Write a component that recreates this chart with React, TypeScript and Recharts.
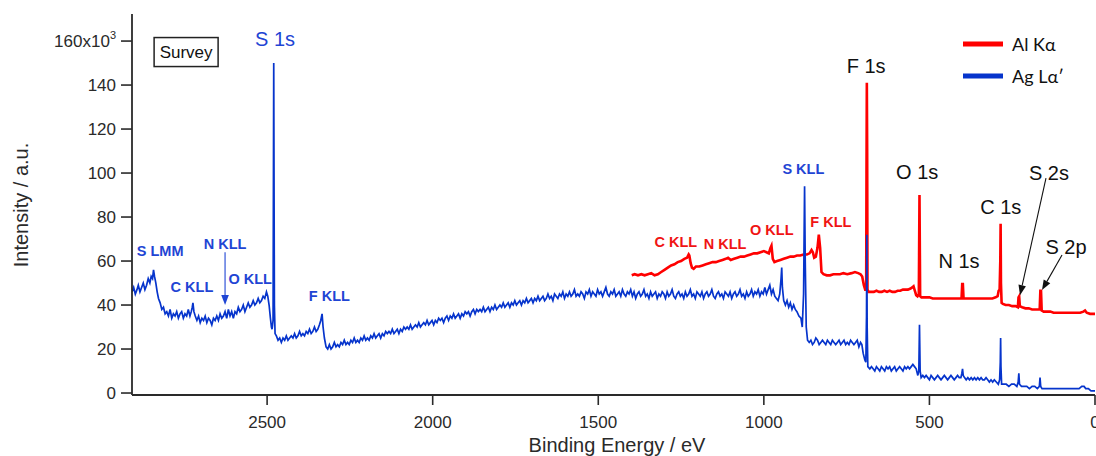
import React from 'react';
import { LineChart, Line, XAxis, YAxis, ReferenceDot, ReferenceLine, Legend } from 'recharts';

// ---------- data (binding energy eV, intensity x10^3) ----------
const agHighBE: [number, number][] = [
  [2908, 46], [2903, 48], [2898, 45], [2893, 47], [2889, 49], [2884, 46], [2879, 48], [2874, 50], [2869, 47],
  [2864, 49], [2859, 52], [2854, 50], [2850, 53], [2846, 52], [2843, 56], [2840, 53], [2836, 50], [2832, 46],
  [2828, 43], [2823, 41], [2818, 38], [2813, 39], [2808, 36], [2803, 37], [2798, 35], [2793, 38], [2788, 34],
  [2783, 36], [2778, 35], [2773, 37], [2768, 34], [2763, 36], [2758, 37], [2753, 34], [2748, 36], [2743, 35],
  [2738, 38], [2733, 35], [2729, 37], [2726, 39], [2724, 41], [2721, 37], [2717, 35], [2712, 33], [2707, 35],
  [2702, 32], [2697, 34], [2692, 33], [2687, 35], [2682, 32], [2677, 34], [2672, 33], [2667, 31], [2662, 34],
  [2657, 33], [2652, 35], [2647, 33], [2642, 36], [2637, 34], [2632, 35], [2627, 37], [2622, 34], [2617, 38],
  [2612, 35], [2607, 37], [2602, 34], [2597, 37], [2592, 36], [2587, 39], [2582, 37], [2577, 38], [2572, 40],
  [2567, 37], [2562, 39], [2557, 41], [2552, 39], [2547, 40], [2542, 42], [2537, 40], [2532, 41], [2527, 43],
  [2522, 41], [2517, 42], [2512, 44], [2507, 43], [2502, 46], [2498, 44], [2494, 40], [2490, 34], [2487, 30],
  [2485, 29], [2482, 33], [2480, 150], [2478, 40], [2476, 27], [2472, 26], [2467, 24], [2462, 25], [2457, 23],
  [2452, 25], [2447, 24], [2442, 26], [2437, 24], [2432, 25], [2427, 26], [2422, 25], [2417, 27], [2412, 25],
  [2407, 26], [2402, 28], [2397, 26], [2392, 27], [2387, 26], [2382, 28], [2377, 27], [2372, 29], [2367, 27],
  [2362, 28], [2357, 30], [2352, 28], [2347, 29], [2342, 31], [2338, 33], [2334, 36], [2331, 30], [2327, 25],
];
const agMidBE: [number, number][] = [
  [2322, 21], [2317, 20], [2312, 22], [2307, 20], [2302, 21], [2297, 23], [2292, 21], [2287, 22], [2282, 21],
  [2277, 23], [2272, 22], [2267, 24], [2262, 22], [2257, 23], [2252, 22], [2247, 24], [2242, 23], [2237, 25],
  [2232, 23], [2227, 24], [2222, 23], [2217, 25], [2212, 24], [2207, 26], [2202, 24], [2197, 25], [2192, 24],
  [2187, 26], [2182, 25], [2177, 27], [2172, 25], [2167, 26], [2162, 27], [2157, 25], [2152, 27], [2147, 26],
  [2142, 28], [2137, 27], [2132, 28], [2127, 27], [2122, 29], [2117, 27], [2112, 28], [2107, 29], [2102, 27],
  [2097, 29], [2092, 28], [2087, 30], [2082, 29], [2077, 30], [2072, 29], [2067, 31], [2062, 29], [2057, 30],
  [2052, 31], [2047, 30], [2042, 32], [2037, 30], [2032, 31], [2027, 32], [2022, 31], [2017, 33], [2012, 31],
  [2007, 32], [2002, 33], [1997, 31], [1992, 33], [1987, 32], [1982, 34], [1977, 33], [1972, 34], [1967, 32],
  [1962, 34], [1957, 35], [1952, 33], [1947, 35], [1942, 34], [1937, 36], [1932, 34], [1927, 35], [1922, 36],
  [1917, 34], [1912, 36], [1907, 35], [1902, 37], [1897, 36], [1892, 37], [1887, 35], [1882, 37], [1877, 38],
  [1872, 36], [1867, 38], [1862, 37], [1857, 38], [1852, 37], [1847, 39], [1842, 37], [1837, 38], [1832, 39],
  [1827, 37], [1822, 39], [1817, 38], [1812, 40], [1807, 38], [1802, 39], [1797, 40], [1792, 39], [1787, 41],
  [1782, 39], [1777, 40], [1772, 41], [1767, 39], [1762, 41], [1757, 40], [1752, 42], [1747, 40], [1742, 41],
  [1737, 42], [1732, 40], [1727, 42], [1722, 41], [1717, 43], [1712, 41], [1707, 42], [1702, 43], [1697, 41],
  [1692, 43], [1687, 42], [1682, 44], [1677, 42], [1672, 43], [1667, 44], [1662, 42], [1657, 43], [1652, 45],
  [1647, 43], [1642, 44], [1637, 42], [1632, 45], [1627, 44], [1622, 43], [1617, 45], [1612, 44], [1607, 46],
  [1602, 43], [1597, 45], [1592, 44], [1587, 46], [1582, 44], [1577, 45], [1572, 47], [1567, 44], [1562, 45],
  [1557, 44], [1552, 46], [1547, 45], [1542, 43], [1537, 46], [1532, 45], [1527, 47], [1522, 44], [1517, 46],
  [1512, 45], [1507, 44], [1502, 47], [1497, 45], [1492, 46], [1487, 44], [1482, 46], [1477, 48], [1472, 45],
  [1467, 44], [1462, 46], [1457, 45], [1452, 47], [1447, 44], [1442, 45], [1437, 46], [1432, 44], [1427, 47],
  [1422, 45], [1417, 44], [1412, 46], [1407, 45], [1402, 47], [1397, 44], [1392, 46], [1387, 43], [1382, 45],
  [1377, 46], [1372, 44], [1367, 45], [1362, 47], [1357, 44], [1352, 45], [1347, 43], [1342, 46], [1337, 44],
  [1332, 45], [1327, 46], [1322, 43], [1317, 45], [1312, 44], [1307, 46], [1302, 45], [1297, 43], [1292, 46],
  [1287, 44], [1282, 45], [1277, 47], [1272, 44], [1267, 43], [1262, 45], [1257, 46], [1252, 44], [1247, 45],
  [1242, 43], [1237, 46], [1232, 44], [1227, 45], [1222, 47], [1217, 44], [1212, 45], [1207, 43], [1202, 46],
  [1197, 45], [1192, 44], [1187, 46], [1182, 43], [1177, 45], [1172, 46], [1167, 44], [1162, 45], [1157, 47],
  [1152, 44], [1147, 43], [1142, 45], [1137, 46], [1132, 44], [1127, 45], [1122, 43], [1117, 46], [1112, 45],
  [1107, 44], [1102, 46], [1097, 43], [1092, 45], [1087, 46], [1082, 44], [1077, 45], [1072, 47], [1067, 44],
  [1062, 45], [1057, 43], [1052, 46], [1047, 44], [1042, 45], [1037, 47], [1032, 44], [1027, 46], [1022, 45],
  [1017, 47], [1012, 44], [1007, 46], [1002, 45], [997, 48], [992, 45], [987, 47], [982, 49], [977, 45],
  [972, 47], [967, 44], [962, 43], [957, 42], [952, 45], [948, 52], [946, 57], [944, 48], [940, 42],
  [935, 40], [930, 42], [925, 39], [920, 41], [915, 38], [910, 40], [905, 38], [900, 37], [894, 35],
  [888, 34], [884, 30], [880, 45], [877, 94], [875, 60], [872, 30],
];
const agLowBE: [number, number][] = [
  [868, 24], [863, 23], [858, 24], [853, 22], [848, 23], [843, 25], [838, 24], [833, 22], [828, 23],
  [823, 24], [818, 23], [813, 22], [808, 24], [803, 23], [798, 22], [793, 24], [788, 23], [783, 22],
  [778, 23], [773, 24], [768, 22], [763, 23], [758, 24], [753, 22], [748, 23], [743, 22], [738, 24],
  [733, 23], [728, 22], [723, 23], [718, 24], [713, 21], [708, 23], [704, 22], [700, 18], [695, 15],
  [692, 14], [690, 35], [689, 72], [688, 30], [686, 12], [680, 11], [675, 12], [670, 11], [665, 10],
  [660, 12], [655, 11], [650, 10], [645, 12], [640, 11], [635, 10], [630, 12], [625, 11], [620, 12],
  [615, 10], [610, 11], [605, 12], [600, 10], [595, 11], [590, 12], [585, 11], [580, 10], [575, 12],
  [570, 11], [565, 12], [560, 11], [555, 12], [550, 13], [545, 12], [540, 11], [535, 8], [532, 10],
  [530, 31], [528, 10], [525, 7], [520, 8], [515, 7], [510, 8], [505, 7], [500, 6], [495, 8],
  [490, 7], [485, 6], [480, 7], [475, 8], [470, 7], [465, 6], [460, 7], [455, 8], [450, 7],
  [445, 6], [440, 7], [435, 8], [430, 7], [425, 6], [420, 7], [415, 8], [410, 7], [405, 7],
  [402, 9], [400, 11], [398, 8], [394, 7], [389, 6], [384, 7], [379, 6], [374, 7], [369, 6],
  [364, 7], [359, 6], [354, 7], [349, 6], [344, 7], [339, 6], [334, 6], [329, 7], [324, 6],
  [319, 5], [314, 6], [309, 5], [304, 6], [298, 5], [292, 4], [288, 6], [286, 14], [285, 25],
  [284, 12], [282, 4], [276, 4], [268, 4], [260, 3], [252, 4], [244, 4], [236, 3], [232, 5],
  [230, 9], [228, 4], [222, 3], [214, 3], [206, 3], [198, 2], [190, 3], [182, 3], [174, 2],
  [168, 3], [166, 7], [164, 3], [160, 2], [152, 2], [144, 2], [136, 2], [128, 2], [120, 2],
  [112, 2], [104, 2], [96, 2], [88, 2], [80, 2], [72, 2], [64, 2], [56, 2], [48, 2],
  [40, 3], [33, 3], [28, 2], [20, 2], [12, 1], [5, 1], [0, 1],
];
const alKa: [number, number][] = [
  [1399, 53.5], [1390, 54], [1380, 53.5], [1370, 54], [1360, 53.5], [1350, 54], [1340, 54.5], [1330, 53.5],
  [1320, 54], [1310, 55], [1300, 56], [1290, 57], [1280, 58], [1270, 58.5], [1260, 59.5], [1250, 60],
  [1240, 61], [1232, 61.5], [1227, 63], [1225, 62.5], [1221, 59], [1217, 57], [1212, 56.5], [1205, 57.5],
  [1195, 57.5], [1185, 58], [1175, 58.5], [1165, 59], [1155, 59.5], [1145, 59.5], [1135, 60], [1125, 60.5],
  [1115, 61], [1108, 61.5], [1100, 60.5], [1090, 61], [1080, 61.5], [1070, 62], [1060, 62], [1050, 62.5],
  [1040, 63], [1030, 63.5], [1020, 63.5], [1010, 64], [1000, 64.5], [992, 64], [985, 63.5], [980, 66],
  [977, 67], [973, 61], [968, 59.5], [960, 60], [950, 60.5], [940, 61], [930, 61.5], [920, 62],
  [910, 62], [900, 62.5], [890, 62.5], [880, 63], [870, 63], [862, 63.5], [856, 65], [852, 64],
  [848, 61.5], [843, 62], [838, 66], [834, 72], [830, 66], [826, 55], [820, 54], [810, 53.5],
  [800, 53.5], [790, 54], [780, 54], [770, 54], [760, 54.5], [748, 54], [735, 54.5], [725, 55],
  [715, 54.5], [708, 54], [703, 53], [698, 49], [694, 47], [691, 47], [690, 100], [689, 141],
  [688, 110], [687, 47], [684, 46], [676, 46], [668, 46], [660, 46.5], [652, 46], [644, 46],
  [636, 46.5], [628, 46], [620, 46.5], [612, 46], [604, 46], [596, 46.5], [588, 46.5], [580, 47],
  [572, 47], [565, 47], [557, 47.5], [552, 48], [548, 48.5], [545, 47], [540, 44.5], [536, 44],
  [532, 45], [530, 90], [528, 44], [524, 43.5], [516, 43.5], [508, 43.5], [500, 43.5], [490, 43],
  [480, 43], [470, 43], [460, 43], [450, 43], [440, 43], [430, 43], [420, 43], [410, 43],
  [403, 43], [401, 49.5], [399, 49.5], [397, 43], [390, 43], [380, 43], [370, 43], [360, 43],
  [350, 43], [340, 43], [330, 43], [320, 43], [310, 43], [300, 43.5], [294, 44], [291, 46.5],
  [288, 47], [286, 60], [285, 77], [284, 50], [282, 41], [278, 40.5], [270, 40], [260, 40],
  [250, 39.5], [240, 39.5], [233, 39], [231, 43.5], [229, 44], [227, 39.5], [220, 39], [210, 38.5],
  [200, 38.5], [190, 38], [180, 38], [172, 38], [167, 38], [165, 46.5], [163, 46.5], [161, 37.5],
  [155, 37], [145, 37], [135, 37], [125, 36.5], [115, 36.5], [105, 36.5], [95, 36.5], [85, 36.5],
  [70, 36.5], [55, 36.5], [45, 36.5], [35, 37], [30, 37.5], [25, 36.5], [15, 36], [5, 36], [0, 36],
];

const X_TICKS = [0, 500, 1000, 1500, 2000, 2500];
const Y_TICKS = [0, 20, 40, 60, 80, 100, 120, 140, 160];

// peak labels: [text, BE, intensity]
const corePeakLabels: [string, number, number][] = [
  ['F 1s', 691, 148.6], ['O 1s', 537, 100.5], ['C 1s', 284.5, 84.7], ['N 1s', 410.6, 60.1],
  ['S 2s', 139, 99.9], ['S 2p', 87.6, 66.5],
];
const agAugerLabels: [string, number, number][] = [
  ['S LMM', 2823, 64.7], ['C KLL', 2727, 48.1], ['N KLL', 2627, 67.6], ['O KLL', 2551, 51.7],
  ['F KLL', 2312, 44.2], ['S KLL', 880.7, 101.7],
];
const alAugerLabels: [string, number, number][] = [
  ['C KLL', 1265.7, 68.8], ['N KLL', 1117, 67.6], ['O KLL', 976, 74.3], ['F KLL', 797.7, 77.9],
];
// arrows: [fromBE, fromI, toBE, toI]
const arrowSegments: [number, number, number, number, string][] = [
  [2627, 64, 2627, 40, 'blue'],
  [148, 97.7, 226.4, 44.5, 'black'],
  [99.6, 62.7, 160, 46.8, 'black'],
];

const SERIES_NAMES = ['Al K\u03b1', 'Ag L\u03b1\u2032'];

const FONT = "'Liberation Sans', Arial, Helvetica, sans-serif";
const RED = '#ff0000';
const BLUE = '#0634cc';
const BLUE_TXT = '#1f45d4';
const AXIS = '#2a2a2a';

const toRows = (arr: [number, number][]) => arr.map(([be, i]) => ({ be, i }));
const agData = toRows([...agHighBE, ...agMidBE, ...agLowBE]);
const alData = toRows(alKa);

const YTick = (props: any) => {
  const { x, y, payload } = props;
  const v = payload.value;
  return (
    <text x={x} y={y} dy="0.355em" textAnchor="end" fill={AXIS} fontSize={17} fontFamily={FONT}>
      {v === 160 ? (
        <>
          {'160x10'}
          <tspan dy={-8} fontSize={11}>3</tspan>
        </>
      ) : (
        String(v)
      )}
    </text>
  );
};

const textShape = (text: string, color: string, size: number, bold: boolean) => (p: any) => (
  <text
    x={p.cx}
    y={p.cy}
    dy="0.355em"
    textAnchor="middle"
    fill={color}
    fontSize={size}
    fontWeight={bold ? 'bold' : 'normal'}
    fontFamily={FONT}
  >
    {text}
  </text>
);

const surveyShape = (p: any) => (
  <g>
    <rect x={p.cx - 32} y={p.cy - 14.5} width={64} height={29} fill="#fff" stroke="#222" strokeWidth={1.5} />
    <text x={p.cx} y={p.cy} dy="0.355em" textAnchor="middle" fill="#111" fontSize={17} fontFamily={FONT}>
      Survey
    </text>
  </g>
);

const arrowShape = (color: string) => (p: any) => {
  const { x1, y1, x2, y2 } = p;
  const dx = x2 - x1;
  const dy = y2 - y1;
  const len = Math.sqrt(dx * dx + dy * dy) || 1;
  const ux = dx / len;
  const uy = dy / len;
  const hl = 10;
  const hw = 3.8;
  const bx = x2 - ux * hl;
  const by = y2 - uy * hl;
  const pts = `${x2},${y2} ${bx - uy * hw},${by + ux * hw} ${bx + uy * hw},${by - ux * hw}`;
  return (
    <g>
      <line x1={x1} y1={y1} x2={bx} y2={by} stroke={color} strokeWidth={1.1} />
      <polygon points={pts} fill={color} />
    </g>
  );
};

const LegendContent = () => (
  <div style={{ fontFamily: "Lato, 'Open Sans', sans-serif", fontSize: 18, color: '#111' }}>
    {SERIES_NAMES.map((name, idx) => (
      <div key={name} style={{ display: 'flex', alignItems: 'center', height: 32 }}>
        <svg width={40} height={6} style={{ display: 'block' }}>
          <rect x={0} y={0.5} width={40} height={5} fill={idx === 0 ? RED : BLUE} />
        </svg>
        <span style={{ marginLeft: 9, lineHeight: '20px' }}>{name}</span>
      </div>
    ))}
  </div>
);

const YLabel = () => (
  <text
    transform="translate(28,205) rotate(-90)"
    textAnchor="middle"
    fill={AXIS}
    fontSize={20}
    fontFamily={FONT}
  >
    Intensity / a.u.
  </text>
);

const XLabel = () => (
  <text x={617} y={452} textAnchor="middle" fill={AXIS} fontSize={20} fontFamily={FONT}>
    Binding Energy / eV
  </text>
);

export default function App() {
  return (
    <div style={{ position: 'absolute', left: 0, top: 0, width: 1096, height: 456, overflow: 'hidden', background: '#fff' }}>
      <LineChart width={1096} height={456} margin={{ top: 14, right: 1, bottom: 0, left: 0 }}>
        <XAxis
          xAxisId="top"
          orientation="top"
          type="number"
          dataKey="be"
          domain={[0, 2908]}
          reversed
          allowDataOverflow
          height={0}
          tick={false}
          tickLine={false}
          axisLine={{ stroke: AXIS, strokeWidth: 1.8 }}
        />
        <XAxis
          type="number"
          dataKey="be"
          domain={[0, 2908]}
          reversed
          allowDataOverflow
          ticks={X_TICKS}
          interval={0}
          height={61}
          tickSize={10}
          tickMargin={11}
          axisLine={{ stroke: AXIS, strokeWidth: 1.8 }}
          tickLine={{ stroke: AXIS, strokeWidth: 1.6 }}
          tick={{ fill: AXIS, fontSize: 17, fontFamily: FONT }}
          label={XLabel}
        />
        <YAxis
          type="number"
          domain={[-0.9, 172.3]}
          allowDataOverflow
          ticks={Y_TICKS}
          interval={0}
          width={132}
          tickSize={11}
          tickMargin={5}
          axisLine={{ stroke: AXIS, strokeWidth: 1.8 }}
          tickLine={{ stroke: AXIS, strokeWidth: 1.6 }}
          tick={<YTick />}
          label={YLabel}
        />
        <Line
          data={alData}
          dataKey="i"
          name={SERIES_NAMES[0]}
          type="linear"
          stroke={RED}
          strokeWidth={2.6}
          dot={false}
          activeDot={false}
          isAnimationActive={false}
        />
        <Line
          data={agData}
          dataKey="i"
          name={SERIES_NAMES[1]}
          type="linear"
          stroke={BLUE}
          strokeWidth={1.7}
          dot={false}
          activeDot={false}
          isAnimationActive={false}
        />
        <ReferenceDot x={2476} y={160.9} r={1} shape={textShape('S 1s', BLUE_TXT, 20, false)} />
        {corePeakLabels.map(([t, be, v]) => (
          <ReferenceDot key={'c' + t} x={be} y={v} r={1} shape={textShape(t, '#111', 20, false)} />
        ))}
        {agAugerLabels.map(([t, be, v]) => (
          <ReferenceDot key={'a' + t} x={be} y={v} r={1} shape={textShape(t, BLUE_TXT, 14.5, true)} />
        ))}
        {alAugerLabels.map(([t, be, v]) => (
          <ReferenceDot key={'r' + t} x={be} y={v} r={1} shape={textShape(t, '#f01414', 14.5, true)} />
        ))}
        {arrowSegments.map(([a, b, c, d, col], k) => (
          <ReferenceLine
            key={'ar' + k}
            segment={[{ x: a, y: b }, { x: c, y: d }]}
            shape={arrowShape(col === 'blue' ? BLUE_TXT : '#111')}
          />
        ))}
        <ReferenceDot x={2744.6} y={155} r={1} shape={surveyShape} />
        <Legend
          layout="vertical"
          align="center"
          verticalAlign="middle"
          content={LegendContent}
          wrapperStyle={{ position: 'absolute', left: 963, top: 28, width: 130, height: 64 }}
        />
      </LineChart>
    </div>
  );
}
